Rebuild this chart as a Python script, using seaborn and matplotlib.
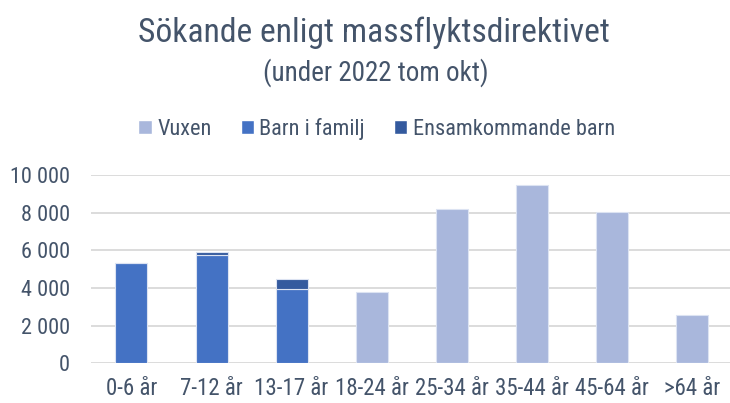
import matplotlib
matplotlib.use("Agg")
import matplotlib.pyplot as plt
import seaborn as sns
import pandas as pd
from matplotlib.patches import Patch
from matplotlib.ticker import FuncFormatter

sns.set_style("white")
plt.rcParams['font.family'] = ['Roboto Condensed', 'Liberation Sans', 'DejaVu Sans']

# Data
age_groups = ['0-6 år', '7-12 år', '13-17 år', '18-24 år', '25-34 år', '35-44 år', '45-64 år', '>64 år']
vuxen = [0, 0, 0, 3800, 8200, 9450, 8030, 2550]
barn_i_familj = [5320, 5730, 3930, 0, 0, 0, 0, 0]
ensamkommande = [0, 160, 530, 0, 0, 0, 0, 0]

df = pd.DataFrame({'age': age_groups, 'vuxen': vuxen,
                   'barn': barn_i_familj, 'ensam': ensamkommande})

text_col = '#44546A'
c_vuxen = '#A9B7DC'
c_barn = '#4472C4'
c_ensam = '#345A9E'

fig = plt.figure(figsize=(7.3, 4.03), dpi=100)
ax = fig.add_axes([0.1253, 0.0985, 0.877, 0.4673])

edge = dict(edgecolor='#DCE3F2', linewidth=0.8)
sns.barplot(data=df, x='age', y='vuxen', order=age_groups, color=c_vuxen,
            width=0.4, saturation=1, ax=ax, **edge)
sns.barplot(data=df, x='age', y='barn', order=age_groups, color=c_barn,
            width=0.4, saturation=1, ax=ax, **edge)
sns.barplot(data=df, x='age', y='ensam', order=age_groups, color=c_ensam,
            width=0.4, saturation=1, bottom=df['barn'], ax=ax, **edge)

ax.set_xlim(-0.5, 7.5)
ax.set_ylim(0, 10000)
ax.set_yticks(range(0, 10001, 2000))
ax.yaxis.set_major_formatter(FuncFormatter(lambda v, p: f"{int(v):,}".replace(',', ' ')))
ax.grid(axis='y', color='#D9D9D9', linewidth=1.3)
ax.set_axisbelow(True)
for s in ax.spines.values():
    s.set_visible(False)
ax.set_xlabel('')
ax.set_ylabel('')
ax.tick_params(axis='y', length=0, pad=15.5, labelsize=16, labelcolor=text_col)
ax.tick_params(axis='x', length=0, pad=10, labelsize=16.5, labelcolor=text_col)

fig.text(0.512, 0.8958, 'Sökande enligt massflyktsdirektivet', ha='center', va='baseline',
         fontsize=24.2, color=text_col)
fig.text(0.515, 0.799, '(under 2022 tom okt)', ha='center', va='baseline',
         fontsize=19.5, color=text_col)

handles = [Patch(facecolor=c_vuxen, label='Vuxen'),
           Patch(facecolor=c_barn, label='Barn i familj'),
           Patch(facecolor=c_ensam, label='Ensamkommande barn')]
leg = fig.legend(handles=handles, loc='center', bbox_to_anchor=(0.516, 0.68), ncol=3,
                 frameon=False, fontsize=16, handlelength=0.6, handleheight=0.6,
                 handletextpad=0.25, columnspacing=1.3)
for t in leg.get_texts():
    t.set_color(text_col)

fig.savefig('out.png', dpi=100)
